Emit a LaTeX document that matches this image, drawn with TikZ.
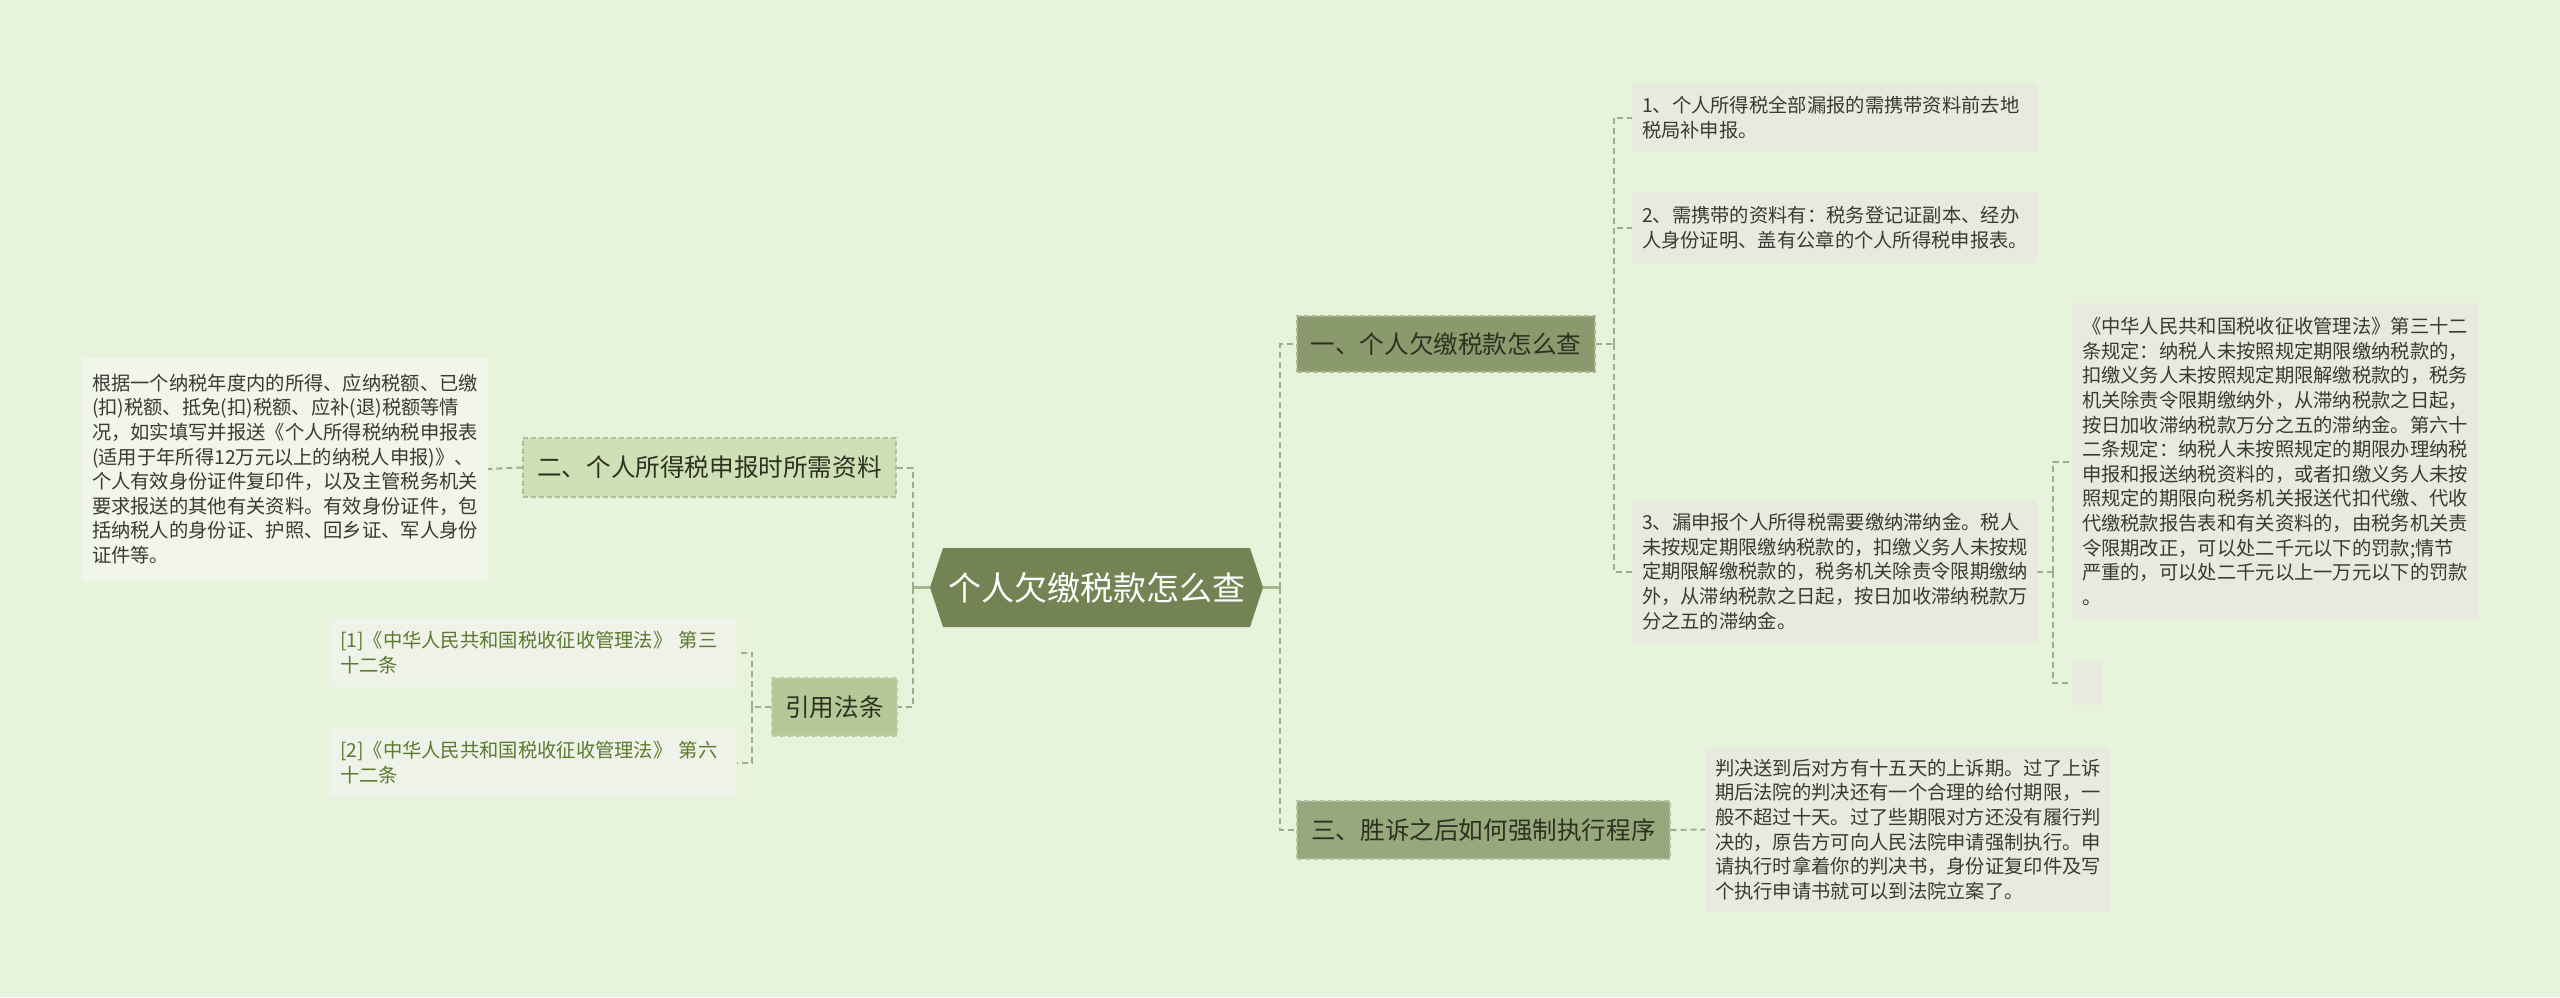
\documentclass[tikz,border=0pt]{standalone}
\usepackage{fontspec}
\setmainfont{Noto Sans CJK SC}
\usetikzlibrary{calc}
\definecolor{bg}{HTML}{E8F3DB}
\definecolor{hexfill}{HTML}{738353}
\definecolor{bOne}{HTML}{8A9A6C}
\definecolor{bThree}{HTML}{98A87D}
\definecolor{bTwo}{HTML}{CFE0B6}
\definecolor{bRef}{HTML}{B5C897}
\definecolor{leafgray}{HTML}{E8EADF}
\definecolor{leaflight}{HTML}{F1F5EA}
\definecolor{reffill}{HTML}{EFF2E8}
\definecolor{leaftext}{HTML}{3A3A34}
\definecolor{reftext}{HTML}{5A7A2E}
\definecolor{conncol}{HTML}{A0AD8C}
\definecolor{solidcol}{HTML}{A8B98C}
\definecolor{btext}{HTML}{2C3121}
\begin{document}
\begin{tikzpicture}[x=1pt,y=-1pt,
  conn/.style={draw=conncol, line width=2pt, dash pattern=on 6pt off 4pt},
  solidconn/.style={draw=solidcol, line width=3pt},
  leafbase/.style={align=left, inner xsep=10pt, inner ysep=0pt, text=leaftext,
     font=\fontsize{19.3}{24.6}\selectfont, anchor=center},
  leaf/.style={leafbase, fill=leafgray},
  leafl/.style={leafbase, fill=leaflight},
  refleaf/.style={leafbase, fill=reffill, text=reftext},
  branch/.style={anchor=center, inner sep=0pt, text=btext, line width=1.2pt,
     dash pattern=on 5pt off 3pt, font=\fontsize{24.6}{28}\selectfont},
  ctext/.style={anchor=center, inner sep=0pt, text=white, font=\fontsize{33}{38}\selectfont}
]
\useasboundingbox (0,0) rectangle (2560,997);
\fill[bg] (0,0) rectangle (2560,997);

% central hexagon
\fill[hexfill] (930,587.5) -- (943,548) -- (1250,548) -- (1263,587.5) -- (1250,627) -- (943,627) -- cycle;
\node[ctext, minimum width=333pt, minimum height=79pt] (c) at (1096.5,587.5) {个人欠缴税款怎么查};

% branches
\node[branch, fill=bOne, draw=bOne!70!white, minimum width=298pt, minimum height=56pt] (b1) at (1446,344) {一、个人欠缴税款怎么查};
\node[branch, fill=bThree, draw=bThree!70!white, minimum width=373pt, minimum height=58pt] (b3) at (1483.5,830) {三、胜诉之后如何强制执行程序};
\node[branch, fill=bTwo, draw=bTwo!85!black, minimum width=373pt, minimum height=59pt] (b2) at (709.5,467.5) {二、个人所得税申报时所需资料};
\node[branch, fill=bRef, draw=bRef!85!white, minimum width=125pt, minimum height=58pt] (b4) at (834.5,707) {引用法条};

% leaves of branch 1
\node[leaf, text width=385pt, minimum height=69pt] (l1) at (1834.5,117.5) {1、个人所得税全部漏报的需携带资料前去地\\税局补申报。};
\node[leaf, text width=385pt, minimum height=71pt] (l2) at (1834.5,227.5) {2、需携带的资料有：税务登记证副本、经办\\人身份证明、盖有公章的个人所得税申报表。};
\node[leaf, text width=385pt, minimum height=143pt] (l3) at (1834.5,571.5) {3、漏申报个人所得税需要缴纳滞纳金。税人\\未按规定期限缴纳税款的，扣缴义务人未按规\\定期限解缴税款的，税务机关除责令限期缴纳\\外，从滞纳税款之日起，按日加收滞纳税款万\\分之五的滞纳金。};
\node[leaf, text width=386pt, minimum height=317pt] (law) at (2275,461.5) {《中华人民共和国税收征收管理法》第三十二\\条规定：纳税人未按照规定期限缴纳税款的，\\扣缴义务人未按照规定期限解缴税款的，税务\\机关除责令限期缴纳外，从滞纳税款之日起，\\按日加收滞纳税款万分之五的滞纳金。第六十\\二条规定：纳税人未按照规定的期限办理纳税\\申报和报送纳税资料的，或者扣缴义务人未按\\照规定的期限向税务机关报送代扣代缴、代收\\代缴税款报告表和有关资料的，由税务机关责\\令限期改正，可以处二千元以下的罚款;情节\\严重的，可以处二千元以上一万元以下的罚款\\。};
\node[fill=leafgray, inner sep=0pt, minimum width=31pt, minimum height=45pt] (empty) at (2087.5,682.5) {};

% leaf of branch 3
\node[leaf, text width=385pt, minimum height=165pt] (l4) at (1907.5,829.5) {判决送到后对方有十五天的上诉期。过了上诉\\期后法院的判决还有一个合理的给付期限，一\\般不超过十天。过了些期限对方还没有履行判\\决的，原告方可向人民法院申请强制执行。申\\请执行时拿着你的判决书，身份证复印件及写\\个执行申请书就可以到法院立案了。};

% leaf of branch 2
\node[leafl, text width=386pt, minimum height=222pt] (l5) at (285,469) {根据一个纳税年度内的所得、应纳税额、已缴\\(扣)税额、抵免(扣)税额、应补(退)税额等情\\况，如实填写并报送《个人所得税纳税申报表\\(适用于年所得12万元以上的纳税人申报)》、\\个人有效身份证件复印件，以及主管税务机关\\要求报送的其他有关资料。有效身份证件，包\\括纳税人的身份证、护照、回乡证、军人身份\\证件等。};

% references
\node[refleaf, text width=387pt, minimum height=69pt] (r1) at (533.5,652.5) {[1]《中华人民共和国税收征收管理法》 第三\\十二条};
\node[refleaf, text width=387pt, minimum height=69pt] (r2) at (533.5,762.5) {[2]《中华人民共和国税收征收管理法》 第六\\十二条};

% connectors from centre
\draw[solidconn] (c.east) -- ++(17,0) coordinate (rt);
\draw[solidconn] (c.west) -- ++(-17,0) coordinate (lt);
\draw[conn] (rt) |- (b1.west);
\draw[conn] (rt) |- (b3.west);
\draw[conn] (lt) |- (b2.east);
\draw[conn] (lt) |- (b4.east);

% branch 1 children
\draw[conn] (b1.east) -- ++(18,0) coordinate (t1);
\draw[conn] (t1) |- (l1.west);
\draw[conn] (t1) |- (l2.west);
\draw[conn] (t1) |- (l3.west);
% box 3 children
\draw[conn] (l3.east) -- ++(16,0) coordinate (t3);
\draw[conn] (t3) |- (law.west);
\draw[conn] (t3) |- (empty.west);
% branch 3 child
\draw[conn] (b3.east) -- (l4.west);
% branch 2 child
\draw[conn] (b2.west) -- (l5.east);
% references
\draw[conn] (b4.west) -- ++(-19,0) coordinate (t4);
\draw[conn] (t4) |- (r1.east);
\draw[conn] (t4) |- (r2.east);
\end{tikzpicture}
\end{document}
